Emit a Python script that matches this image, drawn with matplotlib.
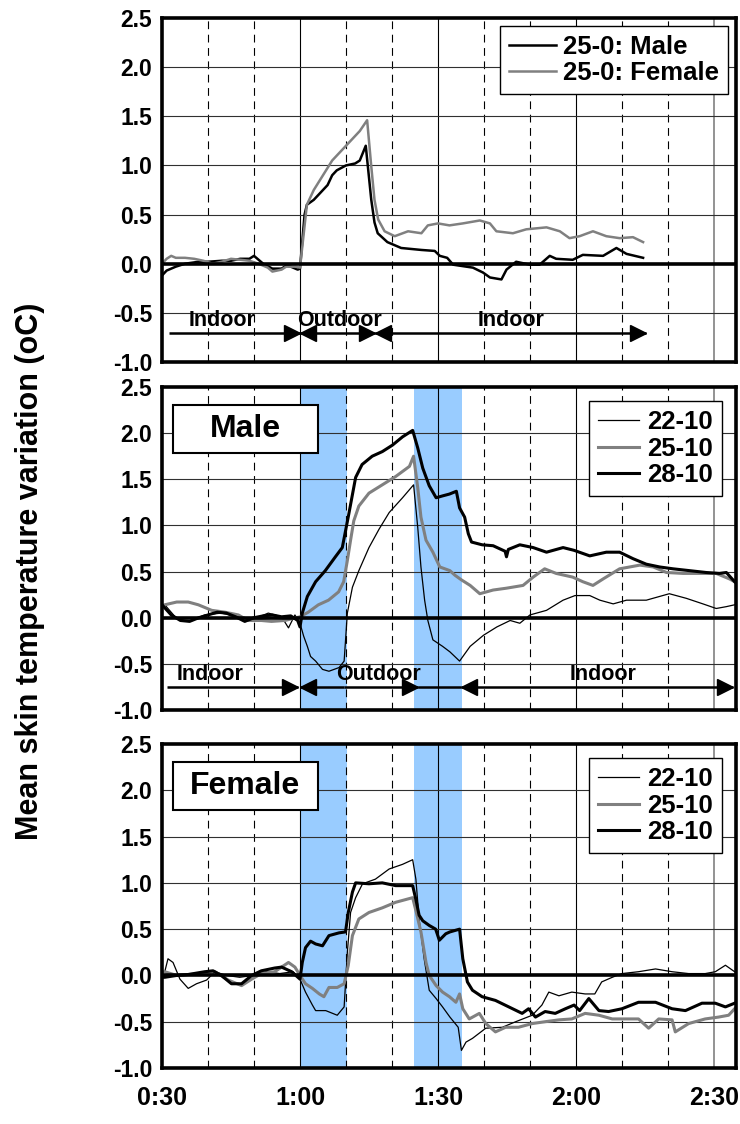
import matplotlib
matplotlib.use('Agg')
import matplotlib.pyplot as plt
from matplotlib.lines import Line2D
from matplotlib.patches import Rectangle

# ---- data (minutes from 0:00, skin temperature variation in oC) ----
# Panel 1: 25-0 condition, male vs female
p1_male_t = [30, 31, 33, 35, 38, 40, 43, 45, 47, 49, 50, 51, 52, 54, 56, 57, 58, 59.5, 60, 61,
             61.5, 63, 65, 66, 67, 68, 70, 72, 73, 74.3, 75.5, 76.2, 76.9, 79, 82, 86.4, 89.3, 90.4,
             92, 93.3, 97.6, 99.8, 101.3, 103.8, 104.9, 107, 110, 112.1, 114.3, 115.7, 119.3, 121.5,
             125.9, 128.8, 131, 134.6]
p1_male_v = [-0.12, -0.07, -0.03, 0.0, 0.02, 0.02, 0.03, 0.03, 0.05, 0.05, 0.08, 0.04, 0.0, -0.05,
             -0.05, -0.02, -0.03, -0.06, -0.05, 0.5, 0.6, 0.65, 0.75, 0.8, 0.9, 0.95, 1.0, 1.02, 1.05,
             1.2, 0.65, 0.42, 0.31, 0.22, 0.16, 0.14, 0.13, 0.08, 0.06, -0.01, -0.04, -0.09, -0.14,
             -0.16, -0.06, 0.02, -0.01, -0.01, 0.08, 0.05, 0.04, 0.09, 0.08, 0.16, 0.1, 0.06]
p1_female_t = [30, 31, 32, 33, 35, 37, 39, 41, 43, 45, 47, 49, 51, 53, 54, 56, 57, 59, 60, 60.8,
               61.5, 63, 65, 67, 69, 71, 73, 74.6, 75.5, 76.2, 77, 78.4, 80.6, 83.5, 86.4, 87.8, 90,
               92.5, 95.4, 99.1, 101.3, 102.7, 106.3, 109.2, 113.6, 116.5, 118.6, 120.8, 123.7,
               126.6, 129.5, 132.4, 134.6]
p1_female_v = [0.0, 0.05, 0.08, 0.06, 0.06, 0.05, 0.03, 0.0, 0.02, 0.05, 0.04, 0.03, 0.0, -0.04,
               -0.08, -0.06, -0.03, -0.03, -0.04, 0.3, 0.6, 0.75, 0.9, 1.05, 1.15, 1.25, 1.35, 1.46,
               0.99, 0.65, 0.45, 0.33, 0.28, 0.33, 0.31, 0.39, 0.41, 0.39, 0.41, 0.44, 0.41, 0.33,
               0.31, 0.35, 0.37, 0.33, 0.26, 0.28, 0.33, 0.28, 0.26, 0.27, 0.22]

# Panel 2: Male, three conditions
m28_t = [30, 32, 34, 36, 38, 40, 42, 44, 46, 48, 50, 52, 54, 56, 58, 59.5, 60, 60.5, 61.6, 63.4,
         65.5, 67.7, 69.2, 69.9, 70.6, 72.1, 73.5, 75.7, 77.9, 80.1, 82.3, 84.5, 85.6, 86.7, 88.1,
         89.6, 91, 92.5, 94, 94.7, 95.8, 96.6, 97.3, 99.6, 102, 104.6, 104.9, 105.3, 107.8, 110.7,
         113.6, 117.2, 119.6, 123, 126.6, 129.5, 132.4, 135.3, 138.2, 141.1, 144.7, 148.3, 151.2,
         152.7, 154.5]
m28_v = [0.14, 0.03, -0.03, -0.04, 0, 0.03, 0.06, 0.05, 0.01, -0.04, 0, 0.02, 0.03, 0.01, 0.02,
         -0.03, -0.1, 0.05, 0.23, 0.39, 0.51, 0.66, 0.76, 0.94, 1.12, 1.52, 1.66, 1.75, 1.8, 1.87,
         1.96, 2.03, 1.84, 1.62, 1.43, 1.30, 1.32, 1.34, 1.37, 1.19, 1.09, 0.91, 0.82, 0.79, 0.78,
         0.72, 0.66, 0.74, 0.79, 0.76, 0.71, 0.76, 0.73, 0.67, 0.71, 0.71, 0.64, 0.58, 0.55, 0.53,
         0.51, 0.49, 0.48, 0.49, 0.39]
m25_t = [30, 30.6, 33.2, 35.7, 37.9, 40.8, 43.7, 46.6, 48.7, 51.6, 53.8, 56.7, 60, 61.8, 64, 66.2,
         68.4, 69.5, 70.3, 71, 71.7, 72.8, 75, 77.9, 80.8, 83.8, 84.7, 85.6, 86.3, 87.4, 88.9, 90.4,
         92.6, 93.7, 95.1, 97, 99.1, 102, 104.9, 108.5, 110.7, 113.2, 115.7, 119.3, 121.5, 123.7,
         125.9, 129.5, 133.9, 136.8, 139.7, 143.3, 146.9, 150.5, 153.4, 154.5]
m25_v = [0.12, 0.14, 0.17, 0.17, 0.14, 0.08, 0.06, 0.03, -0.03, -0.03, -0.04, -0.03, 0.01, 0.06,
         0.14, 0.19, 0.28, 0.39, 0.62, 0.84, 1.05, 1.21, 1.35, 1.44, 1.53, 1.64, 1.75, 1.41, 1.09,
         0.84, 0.71, 0.55, 0.51, 0.46, 0.41, 0.35, 0.26, 0.3, 0.32, 0.35, 0.44, 0.53, 0.48, 0.44,
         0.39, 0.35, 0.42, 0.53, 0.57, 0.55, 0.49, 0.48, 0.48, 0.48, 0.42, 0.39]
m22_t = [30, 30.6, 33.2, 35.7, 39.3, 42.9, 46.6, 50.2, 53.1, 56, 57.5, 58.9, 60, 60.8, 61.6, 62.3,
         63.4, 64.9, 66.3, 68.5, 69.6, 70.3, 71.4, 72.8, 75, 77.2, 79.4, 82.3, 84.7, 85.6, 86.3,
         87.1, 87.8, 88.9, 91, 92.6, 94.7, 97, 99.9, 102.8, 105.7, 107.8, 110, 113.6, 117.2, 119.8,
         123, 125.2, 128.1, 131, 135.3, 140.3, 144, 147.6, 150.5, 152.7, 154.5]
m22_v = [0.12, 0.14, -0.01, -0.04, 0.03, 0.05, 0.01, -0.01, 0.05, 0.01, -0.11, 0.03, -0.06, -0.2,
         -0.31, -0.42, -0.47, -0.56, -0.58, -0.54, -0.47, 0.05, 0.33, 0.51, 0.76, 0.96, 1.14, 1.30,
         1.44, 0.98, 0.55, 0.19, -0.03, -0.24, -0.31, -0.37, -0.47, -0.31, -0.19, -0.1, -0.03,
         -0.06, 0.03, 0.08, 0.19, 0.24, 0.24, 0.19, 0.15, 0.19, 0.19, 0.26, 0.21, 0.15, 0.10, 0.12,
         0.14]

# Panel 3: Female, three conditions
f28_t = [30, 30.6, 33.2, 35.7, 39.3, 41.1, 42.9, 45.1, 47.3, 49.5, 51.6, 54.5, 56, 58.2, 60, 60.5,
         61.2, 62.3, 63.4, 64.9, 66.3, 68.5, 69.9, 70.5, 71.4, 72.1, 75, 77.9, 80.8, 84.5, 85.2,
         85.9, 86.7, 88.1, 89.5, 90.3, 91.7, 92.6, 94.7, 95.4, 96.4, 97.5, 99.6, 102.5, 105.4,
         108.3, 109.7, 111.2, 113.3, 115.5, 117.7, 119.6, 120.8, 122.8, 125, 127.1, 130, 133.6,
         137.3, 140.9, 143.8, 147.4, 150.3, 152.5, 154.5]
f28_v = [-0.02, -0.02, 0, 0.01, 0.04, 0.05, 0, -0.09, -0.09, 0, 0.05, 0.08, 0.09, 0.04, -0.04, 0.14,
         0.3, 0.37, 0.34, 0.32, 0.43, 0.46, 0.47, 0.68, 0.9, 1.0, 0.99, 1.0, 0.97, 0.97, 0.82, 0.65,
         0.59, 0.54, 0.5, 0.38, 0.45, 0.47, 0.5, 0.18, -0.07, -0.16, -0.23, -0.27, -0.34, -0.41,
         -0.36, -0.45, -0.39, -0.41, -0.36, -0.32, -0.38, -0.25, -0.38, -0.39, -0.36, -0.29, -0.29,
         -0.36, -0.38, -0.3, -0.3, -0.34, -0.3]
f25_t = [30, 30.6, 33.2, 35.7, 39.3, 41.5, 44.4, 47.3, 49.5, 51.6, 54.5, 56, 57.5, 58.9, 60, 61.2,
         62.7, 64.2, 65.2, 66.3, 68.1, 69.6, 70.5, 71.4, 72.8, 75, 77.9, 80.8, 84.5, 85.2, 86.3,
         87.4, 88.1, 89.6, 91, 92.5, 93.9, 94.7, 95.4, 96.8, 99, 100.4, 102.5, 104.7, 107.5, 110.5,
         113.3, 116.3, 119.1, 122, 125, 127.9, 130.8, 133.6, 135.8, 138, 140.9, 141.6, 144.5, 148.1,
         151, 153.2, 154.5]
f25_v = [0.04, 0.04, 0, 0.01, 0.02, 0.04, -0.05, -0.11, -0.04, 0.02, 0.04, 0.09, 0.14, 0.09, 0,
         -0.09, -0.14, -0.2, -0.23, -0.13, -0.13, -0.09, 0.11, 0.43, 0.61, 0.68, 0.73, 0.79, 0.84,
         0.7, 0.47, 0.14, 0, -0.11, -0.18, -0.23, -0.29, -0.2, -0.36, -0.47, -0.41, -0.52, -0.61,
         -0.56, -0.56, -0.52, -0.5, -0.48, -0.47, -0.41, -0.43, -0.47, -0.47, -0.47, -0.57, -0.47,
         -0.48, -0.61, -0.52, -0.47, -0.45, -0.43, -0.36]
f22_t = [30, 30.6, 31.3, 32.4, 33.9, 35.7, 37.5, 39.7, 41.5, 44, 46.9, 49.8, 52.7, 55.6, 58.5, 60,
         61.2, 62.7, 63.4, 65.6, 68.1, 69.6, 70.3, 71, 72.1, 73.6, 76.4, 79.4, 82.3, 84.5, 85.2,
         85.9, 87, 88.1, 89.6, 91, 92.6, 94.4, 95.1, 96.1, 97.5, 100.4, 104, 106.9, 110.5, 112.6,
         114.1, 116.3, 119.1, 122, 124.1, 125.6, 127.9, 130, 133.6, 137.3, 140.9, 144.5, 148.1,
         150.3, 152.5, 154.5]
f22_v = [0.02, 0.04, 0.18, 0.14, -0.04, -0.14, -0.09, -0.05, 0.04, 0, -0.02, 0, 0.04, 0.02, 0.04,
         -0.04, -0.18, -0.32, -0.38, -0.38, -0.43, -0.34, 0.25, 0.68, 0.84, 0.99, 1.04, 1.15, 1.2,
         1.25, 1.04, 0.61, 0.18, -0.16, -0.25, -0.34, -0.45, -0.56, -0.81, -0.72, -0.68, -0.57,
         -0.56, -0.5, -0.43, -0.32, -0.18, -0.22, -0.18, -0.2, -0.2, -0.07, -0.02, 0.02, 0.04,
         0.07, 0.04, 0.02, 0.02, 0.04, 0.11, 0.04]

xticks = [30, 60, 90, 120, 150]
xticklabels = ['0:30', '1:00', '1:30', '2:00', '2:30']
yticks = [-1.0, -0.5, 0.0, 0.5, 1.0, 1.5, 2.0, 2.5]
outdoor_spans = [(60, 70.2), (84.8, 95.2)]

GRAY = '#808080'
BLUE = '#99CCFF'
FONT = ['Liberation Sans', 'DejaVu Sans']

fig = plt.figure(figsize=(7.4, 11.24), dpi=100)
W, H = 740.0, 1124.0


def make_ax(top, bottom, left=162, right=736):
    ax = fig.add_axes([left / W, 1 - bottom / H, (right - left) / W, (bottom - top) / H])
    ax.set_xlim(30, 154.8)
    ax.set_ylim(-1.0, 2.5)
    for v in [40, 50, 70, 80, 100, 110, 130, 140]:
        ax.axvline(v, color='black', lw=0.8, ls=(0, (7, 5)), zorder=1)
    for v in [60, 90, 120]:
        ax.axvline(v, color='black', lw=0.8, zorder=1)
    ax.axvline(150, color=GRAY, lw=1.2, zorder=1)
    for v in [-0.5, 0.5, 1.0, 1.5, 2.0]:
        ax.axhline(v, color='#303030', lw=0.8, zorder=1)
    ax.axhline(0, color='black', lw=2.6, zorder=4)
    ax.set_yticks(yticks)
    ax.set_yticklabels(['%.1f' % y for y in yticks], fontsize=16.5, fontweight='bold', family=FONT)
    ax.set_xticks(xticks)
    ax.tick_params(length=0, pad=7)
    for s in ax.spines.values():
        s.set_linewidth(2.6)
        s.set_zorder(6)
    return ax


def arrow_row(ax, y, segs):
    # each seg: (start, end, left_head, right_head)
    hw = 1.7
    for x0, x1, lh, rh in segs:
        ax.plot([x0, x1], [y, y], color='black', lw=1.8, zorder=5, solid_capstyle='butt')
        if lh:
            ax.plot(x0 + hw, y, marker='<', ms=12, color='black', zorder=5)
        if rh:
            ax.plot(x1 - hw, y, marker='>', ms=12, color='black', zorder=5)


def label_box(ax, text):
    ax.add_patch(Rectangle((0.019, 0.796), 0.252, 0.148, transform=ax.transAxes,
                           facecolor='white', edgecolor='black', lw=1.5, zorder=7))
    ax.text(0.145, 0.87, text, transform=ax.transAxes, ha='center', va='center',
            fontsize=23, fontweight='bold', family=FONT, zorder=8)


def add_legend(ax, handles, labels, pad, hl):
    lg = ax.legend(handles, labels, loc='upper right', fancybox=False, framealpha=1,
                   edgecolor='black', handlelength=hl, handletextpad=0.3, borderaxespad=pad,
                   labelspacing=0.1, borderpad=0.35,
                   prop={'size': 18.5, 'weight': 'bold', 'family': FONT})
    lg.get_frame().set_linewidth(1.0)
    lg.set_zorder(8)


# ---- panel 1 ----
ax1 = make_ax(18, 362)
ax1.set_xticklabels([])
ax1.plot(p1_male_t, p1_male_v, color='black', lw=1.8, zorder=3)
ax1.plot(p1_female_t, p1_female_v, color=GRAY, lw=1.8, zorder=3)
arrow_row(ax1, -0.7, [(31.5, 60, False, True), (60, 76.3, True, True), (76.3, 135.2, True, True)])
for x, s in [(43, 'Indoor'), (68.5, 'Outdoor'), (106, 'Indoor')]:
    ax1.text(x, -0.58, s, ha='center', va='center', fontsize=15.5, fontweight='bold',
             family=FONT, zorder=6)
h1 = [Line2D([], [], color='black', lw=1.8), Line2D([], [], color=GRAY, lw=1.8)]
add_legend(ax1, h1, ['25-0: Male', '25-0: Female'], 0.3, 1.8)

# ---- panel 2 (Male) ----
h3 = [Line2D([], [], color='black', lw=0.9), Line2D([], [], color=GRAY, lw=2.2),
      Line2D([], [], color='black', lw=2.2)]
leg_labels = ['22-10', '25-10', '28-10']

ax2 = make_ax(387, 710)
ax2.set_xticklabels([])
for a, b in outdoor_spans:
    ax2.axvspan(a, b, color=BLUE, lw=0, zorder=0)
ax2.plot(m22_t, m22_v, color='black', lw=0.9, zorder=3)
ax2.plot(m25_t, m25_v, color=GRAY, lw=2.2, zorder=3)
ax2.plot(m28_t, m28_v, color='black', lw=2.2, zorder=3)
arrow_row(ax2, -0.75, [(31, 59.5, False, True), (60, 69.6, True, False),
                       (69.6, 85.6, False, True), (85.6, 95, False, False),
                       (95, 154.2, True, True)])
for x, s in [(40.5, 'Indoor'), (77, 'Outdoor'), (126, 'Indoor')]:
    ax2.text(x, -0.62, s, ha='center', va='center', fontsize=15.5, fontweight='bold',
             family=FONT, zorder=6)
label_box(ax2, 'Male')
add_legend(ax2, h3, leg_labels, 0.55, 1.6)

# ---- panel 3 (Female) ----
ax3 = make_ax(744, 1068)
for a, b in outdoor_spans:
    ax3.axvspan(a, b, color=BLUE, lw=0, zorder=0)
ax3.plot(f22_t, f22_v, color='black', lw=0.9, zorder=3)
ax3.plot(f25_t, f25_v, color=GRAY, lw=2.2, zorder=3)
ax3.plot(f28_t, f28_v, color='black', lw=2.2, zorder=3)
label_box(ax3, 'Female')
add_legend(ax3, h3, leg_labels, 0.55, 1.6)
ax3.set_xticklabels(xticklabels, fontsize=18, fontweight='bold', family=FONT)
ax3.tick_params(axis='x', pad=13)

fig.text(0.04, 0.492, 'Mean skin temperature variation (oC)', rotation=90, ha='center',
         va='center', fontsize=22, fontweight='bold', family=FONT)

fig.savefig('out.png', dpi=100)
